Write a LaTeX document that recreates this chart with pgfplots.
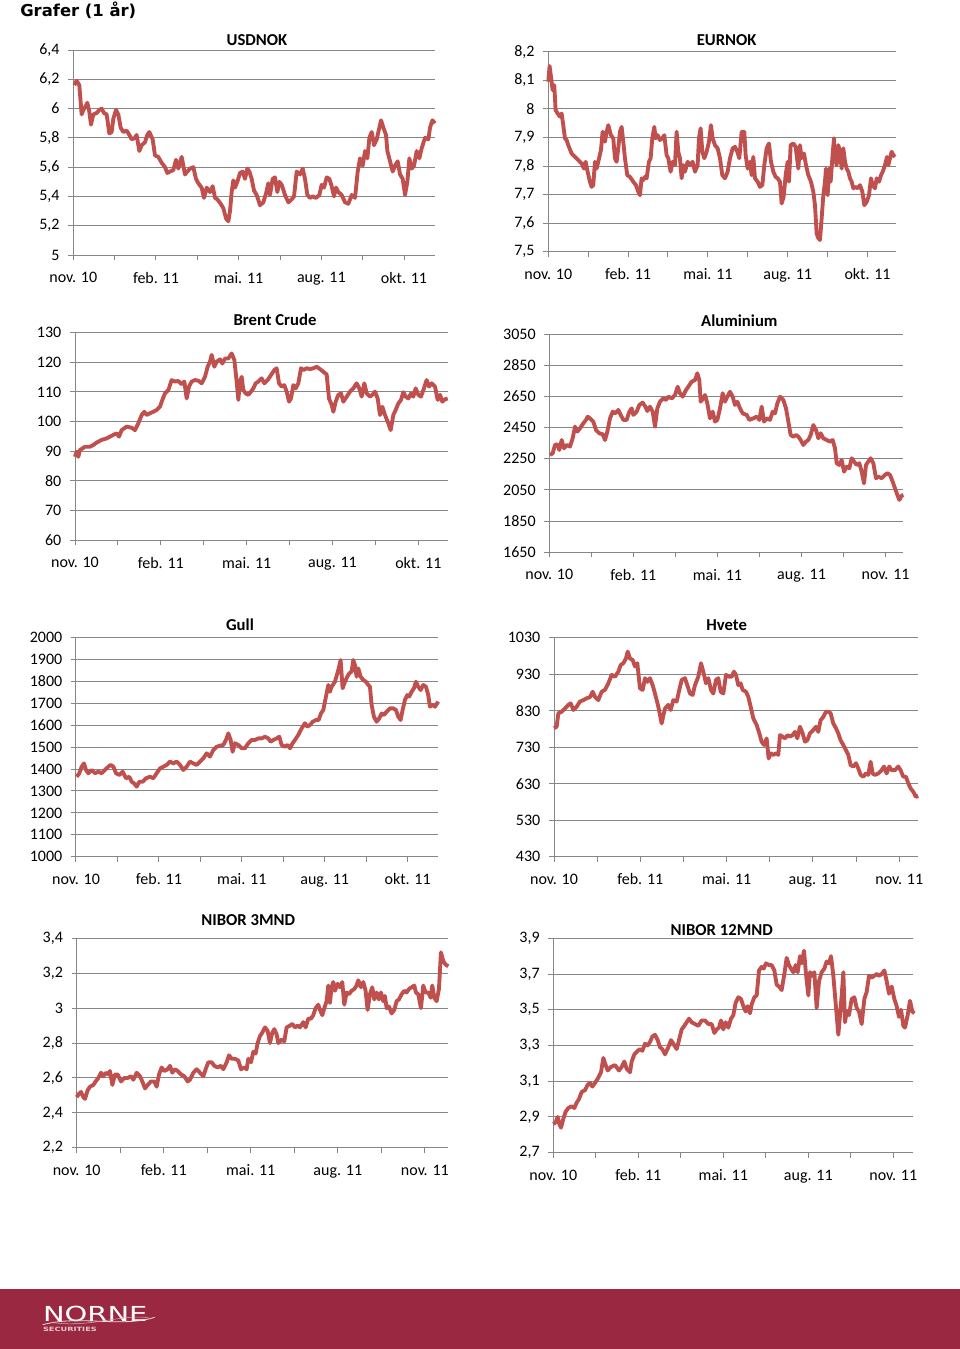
\documentclass[border=0pt]{standalone}
\usepackage{pgfplots}
\pgfplotsset{compat=1.18}
\usepackage{fontspec}
\setmainfont{Carlito}
\newfontfamily\verdana{DejaVu Sans}
\newfontfamily\logofont{DejaVu Sans}
\definecolor{lineRed}{RGB}{192,80,77}
\definecolor{gridGray}{RGB}{134,134,134}
\definecolor{footRed}{RGB}{155,40,65}
\pgfplotsset{
  panel/.style={
    scale only axis, anchor=south west,
    axis x line*=bottom, axis y line*=left,
    axis line style={gridGray, line width=0.75pt, -},
    ymajorgrids, grid style={gridGray, line width=0.75pt},
    tick align=outside, major tick length=3.75pt,
    tick style={gridGray, line width=0.75pt},
    tick label style={font=\fontsize{12}{14}\selectfont},
    xticklabel style={yshift=-5.5pt},
    yticklabel style={xshift=-3pt},
    /pgf/number format/assume math mode=true,
    /pgf/number format/use comma,
    /pgf/number format/1000 sep={},
    clip=false,
  },
  ser/.style={color=lineRed, line width=2.9pt, line join=round, mark=none},
}
\begin{document}
\begin{tikzpicture}
\path[use as bounding box] (0pt,0pt) rectangle (720pt,-1011.75pt);
\fill[footRed] (0pt,-966.9pt) rectangle (720pt,-1011.75pt);
\node[anchor=west, font=\verdana\bfseries\fontsize{12.3}{14}\selectfont, inner sep=0pt] at (15pt,-7.5pt) {Grafer (1 år)};
% logo
\node[white, font=\logofont\fontsize{15.5}{16}\selectfont, inner sep=0pt, anchor=west, xscale=1.4] at (32pt,-985.6pt) {NORNE};
\node[white!75!footRed, font=\logofont\bfseries\fontsize{4.4}{6}\selectfont, inner sep=0pt, anchor=west, xscale=1.4] at (32pt,-997pt) {SECURITIES};
\draw[white!85!footRed, line width=0.6pt] (32pt,-993.5pt) .. controls (60pt,-986pt) and (90pt,-996pt) .. (116pt,-988pt);
\draw[white!60!footRed, line width=0.4pt] (40pt,-992pt) .. controls (70pt,-996pt) and (95pt,-984pt) .. (114pt,-989pt);

% titles
\begin{scope}[every node/.style={font=\bfseries\fontsize{12.5}{14}\selectfont, inner sep=0pt}]
\node at (192.75pt,-30pt) {USDNOK};
\node at (545pt,-30pt) {EURNOK};
\node at (206.25pt,-240pt) {Brent Crude};
\node at (554.5pt,-240.5pt) {Aluminium};
\node at (180pt,-468.75pt) {Gull};
\node at (545pt,-468.75pt) {Hvete};
\node at (186.2pt,-690pt) {NIBOR 3MND};
\node at (541.3pt,-697.5pt) {NIBOR 12MND};
\end{scope}

% USDNOK
\begin{axis}[panel, at={(54.98pt,-191.25pt)}, width=271.3pt, height=153.75pt,
  xmin=130, xmax=1215, ymin=5, ymax=6.4, ytick={5,5.2,5.4,5.6,5.8,6,6.2,6.4},
  xtick={130,254,378,502,626,750,874,998,1122},
  xticklabels={nov. 10,,feb. 11,,mai. 11,,aug. 11,,okt. 11}]
\addplot[ser] coordinates {(133,6.16)(140,6.19)(148,6.16)(155,5.96)(160,5.99)(168,6.02)(172,6.04)(178,5.98)(183,5.89)(190,5.96)(200,5.97)(208,5.99)(215,6.0)(222,5.97)(230,5.96)(238,5.83)(245,5.84)(250,5.93)(258,5.99)(265,5.96)(272,5.87)(280,5.84)(290,5.85)(298,5.82)(305,5.79)(315,5.80)(320,5.82)(328,5.71)(335,5.75)(345,5.77)(352,5.82)(358,5.84)(368,5.79)(375,5.68)(385,5.67)(395,5.63)(405,5.60)(412,5.56)(420,5.57)(430,5.58)(438,5.65)(445,5.59)(455,5.67)(460,5.61)(465,5.55)(472,5.57)(480,5.59)(490,5.60)(498,5.52)(505,5.49)(515,5.46)(522,5.39)(530,5.46)(540,5.43)(548,5.47)(555,5.39)(562,5.38)(572,5.35)(580,5.32)(588,5.25)(595,5.23)(600,5.30)(605,5.43)(610,5.51)(615,5.46)(622,5.50)(630,5.56)(638,5.57)(645,5.52)(652,5.59)(658,5.57)(665,5.52)(672,5.44)(680,5.41)(690,5.34)(700,5.36)(708,5.42)(715,5.49)(720,5.41)(728,5.52)(735,5.53)(742,5.43)(748,5.50)(755,5.48)(765,5.41)(775,5.36)(785,5.38)(792,5.40)(800,5.57)(810,5.55)(818,5.59)(825,5.52)(832,5.41)(840,5.39)(848,5.40)(858,5.39)(868,5.41)(875,5.48)(882,5.46)(890,5.53)(898,5.52)(905,5.47)(912,5.40)(918,5.46)(925,5.43)(935,5.41)(945,5.36)(955,5.35)(965,5.41)(975,5.39)(983,5.57)(990,5.66)(998,5.61)(1005,5.71)(1012,5.66)(1018,5.80)(1025,5.84)(1032,5.75)(1040,5.79)(1048,5.87)(1053,5.92)(1060,5.87)(1068,5.82)(1072,5.71)(1080,5.64)(1088,5.57)(1095,5.61)(1103,5.64)(1110,5.55)(1118,5.52)(1125,5.41)(1132,5.50)(1138,5.66)(1145,5.59)(1152,5.61)(1160,5.71)(1168,5.66)(1175,5.73)(1185,5.80)(1195,5.79)(1200,5.87)(1207,5.92)(1215,5.90)};
\end{axis}

% EURNOK
\begin{axis}[panel, at={(411.2pt,-188.8pt)}, width=260.55pt, height=150pt,
  xmin=130, xmax=1172, ymin=7.5, ymax=8.2, ytick={7.5,7.6,7.7,7.8,7.9,8,8.1,8.2},
  xtick={130,249.7,369.4,489.1,608.8,728.5,848.2,967.9,1087.6},
  xticklabels={nov. 10,,feb. 11,,mai. 11,,aug. 11,,okt. 11}]
\addplot[ser] coordinates {(130,8.095)(134,8.15)(140,8.095)(143,8.066)(148,8.083)(152,7.996)(158,7.984)(165,7.973)(170,7.984)(175,7.943)(180,7.897)(185,7.891)(190,7.873)(200,7.844)(210,7.832)(220,7.821)(230,7.809)(237,7.791)(242,7.815)(248,7.78)(255,7.745)(260,7.727)(265,7.733)(270,7.815)(275,7.791)(280,7.815)(288,7.856)(293,7.92)(300,7.885)(305,7.92)(310,7.943)(318,7.908)(325,7.897)(330,7.827)(335,7.815)(340,7.862)(345,7.92)(350,7.937)(355,7.885)(360,7.827)(367,7.768)(375,7.762)(385,7.745)(393,7.733)(400,7.71)(405,7.698)(410,7.757)(415,7.751)(420,7.762)(425,7.757)(432,7.815)(437,7.827)(442,7.897)(448,7.937)(452,7.897)(458,7.908)(465,7.891)(472,7.897)(478,7.908)(485,7.838)(490,7.827)(497,7.78)(503,7.815)(510,7.803)(515,7.92)(520,7.85)(525,7.827)(530,7.757)(535,7.803)(540,7.78)(548,7.815)(555,7.803)(563,7.815)(570,7.78)(578,7.803)(582,7.897)(587,7.932)(592,7.85)(598,7.827)(605,7.85)(612,7.885)(618,7.943)(623,7.897)(630,7.873)(638,7.862)(645,7.827)(652,7.768)(660,7.757)(668,7.78)(675,7.827)(683,7.862)(690,7.867)(697,7.85)(703,7.827)(710,7.92)(718,7.92)(722,7.838)(728,7.791)(735,7.815)(740,7.768)(745,7.832)(750,7.757)(758,7.745)(765,7.727)(772,7.733)(778,7.803)(785,7.862)(792,7.879)(798,7.815)(805,7.78)(812,7.762)(818,7.757)(825,7.745)(830,7.669)(836,7.692)(842,7.768)(848,7.815)(852,7.745)(857,7.873)(865,7.879)(872,7.867)(880,7.791)(885,7.873)(890,7.827)(897,7.844)(903,7.803)(910,7.768)(918,7.745)(925,7.71)(930,7.663)(935,7.564)(940,7.547)(945,7.541)(950,7.617)(955,7.698)(960,7.745)(963,7.791)(968,7.698)(972,7.791)(977,7.745)(982,7.827)(987,7.897)(990,7.827)(995,7.803)(1000,7.873)(1005,7.85)(1010,7.791)(1015,7.862)(1020,7.815)(1025,7.791)(1030,7.78)(1035,7.757)(1040,7.745)(1045,7.722)(1052,7.727)(1058,7.722)(1065,7.733)(1072,7.71)(1078,7.663)(1085,7.674)(1092,7.698)(1098,7.757)(1103,7.733)(1110,7.722)(1115,7.757)(1122,7.745)(1128,7.768)(1133,7.78)(1140,7.803)(1146,7.832)(1150,7.803)(1155,7.827)(1160,7.85)(1165,7.838)(1170,7.832)};
\end{axis}

% Brent
\begin{axis}[panel, at={(56.25pt,-405pt)}, width=279.5pt, height=155.5pt,
  xmin=150, xmax=1268, ymin=60, ymax=130, ytick={60,70,80,90,100,110,120,130},
  xtick={150,278.75,407.5,536.25,665,793.75,922.5,1051.25,1180},
  xticklabels={nov. 10,,feb. 11,,mai. 11,,aug. 11,,okt. 11}]
\addplot[ser] coordinates {(150,88.1)(155,89.8)(160,88.1)(165,90.4)(172,90.9)(180,91.5)(195,91.5)(205,92.1)(215,92.9)(230,93.8)(245,94.3)(255,94.9)(265,95.5)(275,96.0)(282,94.9)(290,97.1)(305,98.3)(320,97.9)(330,97.1)(340,99.4)(350,102.2)(358,103.3)(365,102.2)(375,102.8)(385,103.3)(395,103.9)(405,105.0)(412,107.3)(420,109.5)(430,110.6)(440,114.0)(450,113.5)(460,113.7)(470,112.6)(478,113.5)(485,107.8)(492,111.8)(500,113.5)(510,114.0)(520,113.8)(530,112.9)(540,115.1)(548,118.5)(555,120.2)(560,122.5)(568,118.5)(575,120.2)(585,121.0)(592,119.6)(600,121.3)(610,121.3)(620,123.0)(628,120.8)(635,113.5)(640,107.3)(645,113.5)(650,115.1)(655,110.6)(662,109.5)(670,109.0)(678,110.1)(685,111.2)(692,112.9)(700,113.5)(710,114.6)(718,112.9)(728,114.0)(738,115.7)(748,117.4)(755,118.0)(762,112.9)(770,111.8)(778,112.3)(785,110.1)(792,106.7)(798,107.8)(805,112.3)(812,111.2)(820,112.9)(828,118.0)(836,117.4)(845,118.0)(855,117.7)(865,118.0)(875,118.5)(885,117.7)(895,116.8)(905,115.9)(912,107.8)(920,105.6)(925,103.3)(932,106.7)(940,109.0)(948,109.5)(955,106.7)(965,108.4)(975,110.1)(985,111.2)(995,112.9)(1003,111.2)(1010,108.4)(1018,112.9)(1025,109.5)(1035,108.4)(1042,109.0)(1050,110.1)(1058,107.8)(1065,102.2)(1072,105.0)(1080,102.2)(1090,99.4)(1097,97.1)(1105,102.2)(1112,103.9)(1120,106.1)(1128,107.3)(1135,109.9)(1142,108.4)(1150,107.8)(1158,109.5)(1165,108.4)(1172,111.2)(1180,109.0)(1188,108.4)(1195,110.6)(1205,114.0)(1212,111.8)(1220,112.9)(1230,111.8)(1238,107.3)(1245,109.0)(1252,106.7)(1260,107.5)(1268,107.8)};
\end{axis}

% Aluminium
\begin{axis}[panel, at={(412pt,-414.2pt)}, width=265.5pt, height=163.7pt,
  xmin=148, xmax=1210, ymin=1650, ymax=3050, ytick={1650,1850,2050,2250,2450,2650,2850,3050},
  xtick={148,274.1,400.2,526.3,652.4,778.5,904.6,1030.7,1156.8},
  xticklabels={nov. 10,,feb. 11,,mai. 11,,aug. 11,,nov. 11}]
\addplot[ser] coordinates {(150,2274)(158,2285)(165,2338)(172,2343)(178,2306)(185,2370)(192,2317)(200,2338)(210,2328)(218,2381)(225,2456)(232,2424)(240,2445)(250,2477)(258,2499)(263,2520)(270,2509)(280,2488)(288,2434)(298,2413)(308,2407)(315,2370)(322,2424)(330,2509)(338,2552)(345,2541)(355,2563)(362,2531)(370,2499)(380,2499)(388,2552)(395,2573)(400,2531)(410,2552)(418,2595)(428,2610)(436,2584)(442,2556)(450,2584)(458,2552)(465,2456)(472,2573)(480,2616)(490,2637)(498,2627)(505,2648)(515,2637)(525,2659)(533,2712)(540,2670)(548,2648)(558,2691)(565,2712)(575,2744)(585,2755)(592,2798)(598,2755)(602,2616)(610,2637)(615,2659)(622,2605)(630,2509)(638,2552)(645,2488)(652,2499)(660,2573)(668,2670)(675,2616)(682,2648)(690,2680)(698,2648)(705,2595)(712,2616)(720,2573)(728,2541)(740,2531)(748,2499)(760,2509)(770,2520)(778,2499)(785,2584)(792,2488)(800,2509)(810,2499)(818,2552)(825,2541)(832,2605)(840,2648)(850,2627)(858,2573)(865,2488)(872,2402)(880,2392)(888,2402)(895,2392)(902,2370)(910,2338)(918,2360)(925,2370)(932,2402)(940,2466)(948,2434)(955,2381)(962,2413)(970,2381)(980,2370)(990,2360)(998,2370)(1005,2317)(1010,2221)(1018,2210)(1025,2242)(1032,2167)(1040,2199)(1048,2189)(1055,2253)(1062,2232)(1070,2210)(1078,2221)(1085,2167)(1092,2092)(1098,2210)(1105,2232)(1112,2253)(1120,2221)(1128,2125)(1135,2135)(1145,2125)(1155,2146)(1162,2157)(1170,2146)(1178,2103)(1185,2060)(1192,2018)(1198,1986)(1205,2013)(1210,2018)};
\end{axis}

% Gull
\begin{axis}[panel, at={(57pt,-642.5pt)}, width=271.7pt, height=164.25pt,
  xmin=168, xmax=1255, ymin=1000, ymax=2000, ytick={1000,1100,1200,1300,1400,1500,1600,1700,1800,1900,2000},
  xtick={168,292.4,416.8,541.2,665.6,790,914.4,1038.8,1163.2},
  xticklabels={nov. 10,,feb. 11,,mai. 11,,aug. 11,,okt. 11}]
\addplot[ser] coordinates {(170,1365)(178,1381)(185,1411)(192,1426)(198,1396)(205,1381)(215,1396)(225,1381)(235,1388)(245,1381)(255,1396)(265,1411)(272,1419)(280,1411)(288,1381)(298,1373)(308,1388)(318,1358)(328,1365)(335,1342)(342,1335)(350,1320)(358,1342)(368,1342)(378,1358)(390,1365)(400,1358)(410,1381)(420,1403)(430,1411)(440,1419)(450,1434)(460,1426)(470,1434)(480,1419)(490,1396)(500,1411)(510,1434)(520,1426)(530,1419)(540,1434)(550,1449)(560,1472)(570,1457)(580,1487)(590,1502)(600,1507)(610,1510)(618,1533)(625,1563)(632,1533)(638,1479)(645,1518)(655,1510)(665,1495)(675,1495)(685,1518)(695,1533)(705,1533)(715,1540)(725,1540)(735,1548)(745,1540)(752,1525)(760,1533)(770,1540)(778,1548)(785,1510)(795,1502)(803,1510)(810,1495)(818,1518)(825,1533)(835,1556)(845,1586)(855,1609)(862,1594)(870,1601)(878,1616)(888,1624)(896,1624)(903,1654)(910,1670)(918,1731)(925,1784)(930,1753)(935,1776)(945,1799)(955,1852)(962,1898)(968,1769)(975,1799)(982,1822)(988,1837)(995,1845)(1000,1898)(1005,1875)(1010,1822)(1015,1860)(1022,1822)(1030,1807)(1038,1799)(1045,1784)(1050,1776)(1055,1693)(1062,1639)(1070,1616)(1078,1632)(1085,1654)(1092,1647)(1100,1662)(1110,1677)(1120,1677)(1128,1670)(1135,1639)(1142,1624)(1148,1670)(1155,1716)(1162,1738)(1168,1731)(1175,1753)(1182,1769)(1188,1799)(1195,1776)(1202,1761)(1210,1784)(1218,1776)(1225,1738)(1230,1685)(1238,1693)(1245,1685)(1255,1708)};
\end{axis}

% Hvete
\begin{axis}[panel, at={(415.5pt,-642.5pt)}, width=273.2pt, height=164.25pt,
  xmin=162, xmax=1255, ymin=430, ymax=1030, ytick={430,530,630,730,830,930,1030},
  xtick={162,291.5,421,550.5,680,809.5,939,1068.5,1198},
  xticklabels={nov. 10,,feb. 11,,mai. 11,,aug. 11,,nov. 11}]
\addplot[ser] coordinates {(162,782)(170,786)(175,823)(185,827)(195,836)(205,846)(212,850)(220,832)(230,841)(240,855)(250,859)(260,864)(270,867)(278,882)(285,868)(295,859)(305,882)(315,887)(325,905)(335,928)(345,923)(355,937)(362,955)(370,960)(378,973)(383,992)(390,973)(398,969)(405,951)(412,960)(420,891)(428,887)(435,919)(442,909)(450,919)(458,900)(465,877)(475,841)(485,795)(495,836)(505,846)(512,832)(520,859)(530,855)(538,887)(545,914)(555,919)(562,900)(570,877)(578,873)(585,900)(595,923)(603,960)(610,937)(618,905)(625,919)(633,887)(640,877)(648,914)(655,919)(662,882)(670,877)(678,928)(688,923)(695,923)(702,937)(708,928)(715,900)(722,905)(728,887)(738,882)(745,868)(752,841)(760,809)(770,791)(778,768)(785,745)(792,736)(800,754)(806,699)(812,713)(820,709)(828,713)(835,709)(840,763)(848,759)(855,754)(863,763)(870,759)(878,763)(885,772)(892,754)(900,786)(908,768)(915,745)(922,749)(930,768)(940,777)(948,786)(955,772)(962,804)(970,813)(978,827)(985,827)(992,823)(1000,795)(1008,782)(1015,768)(1022,749)(1030,736)(1038,722)(1045,709)(1052,681)(1060,677)(1068,686)(1075,672)(1082,654)(1090,649)(1098,658)(1105,654)(1112,690)(1118,658)(1125,654)(1135,658)(1145,667)(1152,677)(1160,658)(1168,677)(1175,667)(1185,667)(1195,677)(1202,667)(1210,649)(1218,649)(1225,631)(1232,617)(1240,608)(1248,594)(1255,596)};
\end{axis}

% NIBOR 3MND
\begin{axis}[panel, at={(57.5pt,-860.8pt)}, width=278.7pt, height=157pt,
  xmin=125, xmax=1240, ymin=2.2, ymax=3.4, ytick={2.2,2.4,2.6,2.8,3,3.2,3.4},
  xtick={125,255.6,386.2,516.8,647.4,778,908.6,1039.2,1169.8},
  xticklabels={nov. 10,,feb. 11,,mai. 11,,aug. 11,,nov. 11}]
\addplot[ser] coordinates {(125,2.49)(132,2.51)(138,2.52)(145,2.49)(150,2.48)(158,2.53)(165,2.55)(175,2.56)(182,2.58)(190,2.60)(198,2.63)(205,2.61)(213,2.63)(220,2.62)(225,2.64)(232,2.56)(240,2.62)(248,2.62)(258,2.58)(268,2.60)(278,2.60)(288,2.61)(295,2.59)(305,2.63)(315,2.61)(322,2.58)(330,2.54)(338,2.56)(348,2.58)(358,2.58)(365,2.55)(372,2.62)(380,2.66)(388,2.64)(398,2.65)(405,2.67)(412,2.63)(420,2.65)(428,2.64)(438,2.62)(448,2.61)(458,2.58)(465,2.59)(475,2.63)(485,2.65)(495,2.63)(505,2.61)(512,2.65)(520,2.69)(530,2.69)(538,2.67)(548,2.66)(558,2.67)(565,2.65)(575,2.69)(582,2.73)(590,2.71)(600,2.71)(610,2.70)(618,2.65)(628,2.66)(635,2.65)(640,2.71)(648,2.69)(655,2.75)(662,2.74)(668,2.80)(675,2.84)(682,2.86)(690,2.89)(698,2.87)(705,2.80)(712,2.86)(718,2.88)(725,2.85)(730,2.80)(740,2.82)(748,2.81)(755,2.89)(765,2.90)(772,2.91)(780,2.89)(788,2.90)(795,2.89)(805,2.92)(812,2.89)(820,2.94)(828,2.94)(835,2.96)(842,3.00)(850,3.02)(855,2.99)(862,2.96)(868,3.00)(875,3.04)(880,3.13)(885,3.03)(890,3.12)(895,3.15)(900,3.10)(908,3.14)(915,3.12)(922,3.15)(928,3.02)(935,3.09)(942,3.08)(950,3.10)(958,3.11)(965,3.13)(970,3.16)(978,3.12)(985,3.15)(992,3.10)(998,2.99)(1005,3.08)(1012,3.12)(1018,3.05)(1025,3.09)(1032,3.05)(1038,3.09)(1045,3.04)(1050,3.07)(1055,3.00)(1062,3.01)(1070,2.97)(1078,2.99)(1085,3.04)(1092,3.05)(1100,3.08)(1108,3.10)(1115,3.09)(1122,3.11)(1130,3.12)(1138,3.13)(1143,3.09)(1150,3.08)(1158,3.00)(1165,3.13)(1172,3.09)(1180,3.09)(1187,3.06)(1192,3.13)(1198,3.06)(1205,3.04)(1212,3.11)(1218,3.32)(1225,3.27)(1232,3.25)(1240,3.24)};
\end{axis}

% NIBOR 12MND
\begin{axis}[panel, at={(415pt,-864.5pt)}, width=270pt, height=160.8pt,
  xmin=145, xmax=1225, ymin=2.7, ymax=3.9, ytick={2.7,2.9,3.1,3.3,3.5,3.7,3.9},
  xtick={145,272.5,400,527.5,655,782.5,910,1037.5,1165},
  xticklabels={nov. 10,,feb. 11,,mai. 11,,aug. 11,,nov. 11}]
\addplot[ser] coordinates {(145,2.86)(152,2.87)(158,2.90)(163,2.86)(168,2.84)(175,2.89)(182,2.93)(190,2.95)(200,2.96)(208,2.95)(215,2.98)(222,3.00)(230,3.04)(240,3.05)(248,3.08)(255,3.09)(262,3.07)(270,3.09)(280,3.12)(288,3.15)(295,3.23)(300,3.20)(308,3.16)(318,3.18)(330,3.19)(342,3.16)(350,3.18)(358,3.21)(365,3.17)(375,3.15)(380,3.21)(388,3.25)(398,3.27)(405,3.28)(412,3.27)(420,3.31)(428,3.30)(435,3.32)(442,3.35)(450,3.36)(458,3.33)(465,3.29)(472,3.28)(480,3.25)(490,3.29)(498,3.33)(505,3.31)(515,3.28)(522,3.33)(530,3.39)(538,3.41)(545,3.43)(552,3.45)(560,3.43)(570,3.42)(580,3.41)(590,3.44)(600,3.44)(610,3.42)(620,3.42)(628,3.37)(635,3.39)(642,3.40)(648,3.44)(655,3.39)(662,3.43)(670,3.40)(678,3.45)(685,3.47)(692,3.54)(700,3.57)(708,3.56)(715,3.52)(722,3.49)(728,3.52)(735,3.48)(740,3.53)(748,3.57)(755,3.58)(762,3.72)(770,3.74)(776,3.73)(783,3.76)(792,3.75)(800,3.75)(808,3.72)(815,3.64)(822,3.63)(830,3.61)(838,3.70)(845,3.79)(852,3.75)(858,3.73)(865,3.71)(872,3.75)(878,3.71)(885,3.80)(890,3.76)(897,3.83)(903,3.70)(910,3.58)(915,3.71)(922,3.69)(928,3.71)(935,3.51)(942,3.66)(950,3.71)(958,3.73)(965,3.77)(972,3.76)(978,3.80)(985,3.69)(990,3.58)(995,3.47)(1000,3.36)(1005,3.47)(1010,3.58)(1015,3.71)(1020,3.43)(1025,3.49)(1032,3.47)(1040,3.56)(1048,3.57)(1055,3.51)(1062,3.49)(1070,3.42)(1078,3.56)(1085,3.60)(1092,3.69)(1100,3.68)(1108,3.69)(1115,3.70)(1122,3.69)(1130,3.70)(1138,3.72)(1145,3.66)(1152,3.59)(1160,3.63)(1168,3.56)(1175,3.52)(1182,3.46)(1188,3.50)(1195,3.41)(1200,3.40)(1208,3.47)(1215,3.55)(1222,3.49)(1228,3.48)};
\end{axis}
\end{tikzpicture}
\end{document}
